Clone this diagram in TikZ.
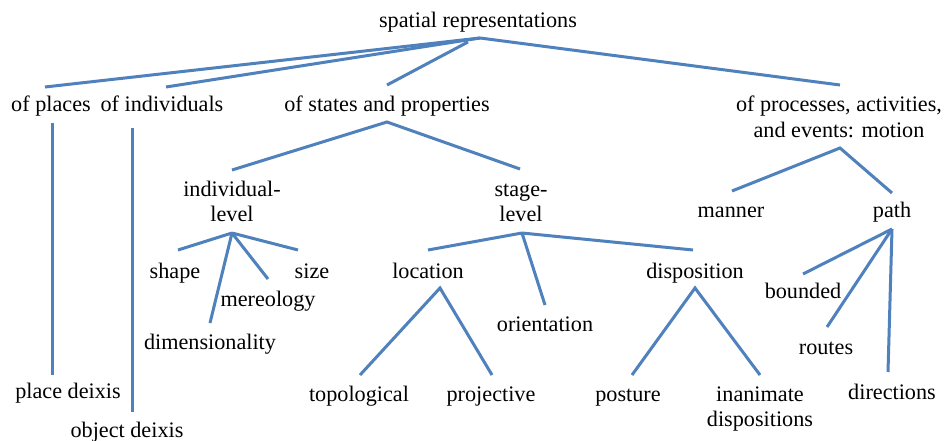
\documentclass[tikz,border=0pt]{standalone}
\usepackage{fontspec}
\setmainfont{Liberation Serif}
\definecolor{linkblue}{RGB}{79,129,189}
\begin{document}
\begin{tikzpicture}[x=1pt,y=-1pt,
  lbl/.style={anchor=base,inner sep=0pt,font=\fontsize{22.2}{25}\selectfont,align=center},
  link/.style={draw=linkblue,line width=3pt}]
\useasboundingbox[fill=white] (0,0) rectangle (944,441);
% text nodes
\node[lbl] (root) at (478,28) {spatial representations};
\node[lbl] (places) at (51,112) {of places};
\node[lbl] (indiv) at (162,112) {of individuals};
\node[lbl] (states) at (387,112) {of states and properties};
\node[lbl] (proc) at (839,137) {of processes, activities,\\and events: motion};
\node[lbl] (ilevel) at (232,221) {individual-\\level};
\node[lbl] (slevel) at (521,221) {stage-\\level};
\node[lbl] (shape) at (175,278) {shape};
\node[lbl] (size) at (312,278) {size};
\node[lbl] (mereo) at (268,306) {mereology};
\node[lbl] (dimen) at (210,349) {dimensionality};
\node[lbl] (loc) at (428,278) {location};
\node[lbl] (orient) at (545,331) {orientation};
\node[lbl] (dispo) at (695,278) {disposition};
\node[lbl] (topo) at (359,401) {topological};
\node[lbl] (proj) at (491,401) {projective};
\node[lbl] (post) at (628,401) {posture};
\node[lbl] (inan) at (760,426) {inanimate\\dispositions};
\node[lbl] (manner) at (731,217) {manner};
\node[lbl] (path) at (892,217) {path};
\node[lbl] (bound) at (803,298) {bounded};
\node[lbl] (routes) at (826,354) {routes};
\node[lbl] (dirs) at (892,399) {directions};
\node[lbl] (pdeix) at (68,398) {place deixis};
\node[lbl] (odeix) at (127,437) {object deixis};
% connector end points
\coordinate (rA) at (480,38);
\coordinate (rB) at (468,42);
\coordinate (cPlaces) at (45,87);
\coordinate (cIndiv) at (166,87);
\coordinate (cStates) at (387,85);
\coordinate (cProc) at (840,85);
\coordinate (pTop) at (52,123);
\coordinate (pBot) at (52,375);
\coordinate (iTop) at (132,128);
\coordinate (iBot) at (132,412);
\coordinate (sA) at (387,122);
\coordinate (cIlevel) at (232,170);
\coordinate (cSlevel) at (520,169);
\coordinate (ilA) at (232,233);
\coordinate (cShape) at (178,250);
\coordinate (cSize) at (298,250);
\coordinate (cMereo) at (268,279);
\coordinate (cDimen) at (210,323);
\coordinate (slA) at (522,233);
\coordinate (cLoc) at (428,250);
\coordinate (cDispo) at (693,250);
\coordinate (cOrient) at (545,305);
\coordinate (locA) at (440,288);
\coordinate (cTopo) at (360,375);
\coordinate (cProj) at (492,375);
\coordinate (dA) at (695,288);
\coordinate (cPost) at (632,375);
\coordinate (cInan) at (760,375);
\coordinate (prA) at (840,148);
\coordinate (cManner) at (732,191);
\coordinate (cPath) at (892,193);
\coordinate (paA) at (892,229);
\coordinate (cBound) at (803,274);
\coordinate (cRoutes) at (827,327);
\coordinate (cDirs) at (888,372);
% connectors
\draw[link] (rA) -- (cPlaces);
\draw[link] (rA) -- (cIndiv);
\draw[link] (rB) -- (cStates);
\draw[link] (rA) -- (cProc);
\draw[link] (pTop) -- (pBot);
\draw[link] (iTop) -- (iBot);
\draw[link] (cIlevel) -- (sA) -- (cSlevel);
\draw[link] (ilA) -- (cShape);
\draw[link] (ilA) -- (cSize);
\draw[link] (ilA) -- (cMereo);
\draw[link] (ilA) -- (cDimen);
\draw[link] (slA) -- (cLoc);
\draw[link] (slA) -- (cDispo);
\draw[link] (slA) -- (cOrient);
\draw[link] (cTopo) -- (locA) -- (cProj);
\draw[link] (cPost) -- (dA) -- (cInan);
\draw[link] (cManner) -- (prA) -- (cPath);
\draw[link] (paA) -- (cBound);
\draw[link] (paA) -- (cRoutes);
\draw[link] (paA) -- (cDirs);
\end{tikzpicture}
\end{document}
